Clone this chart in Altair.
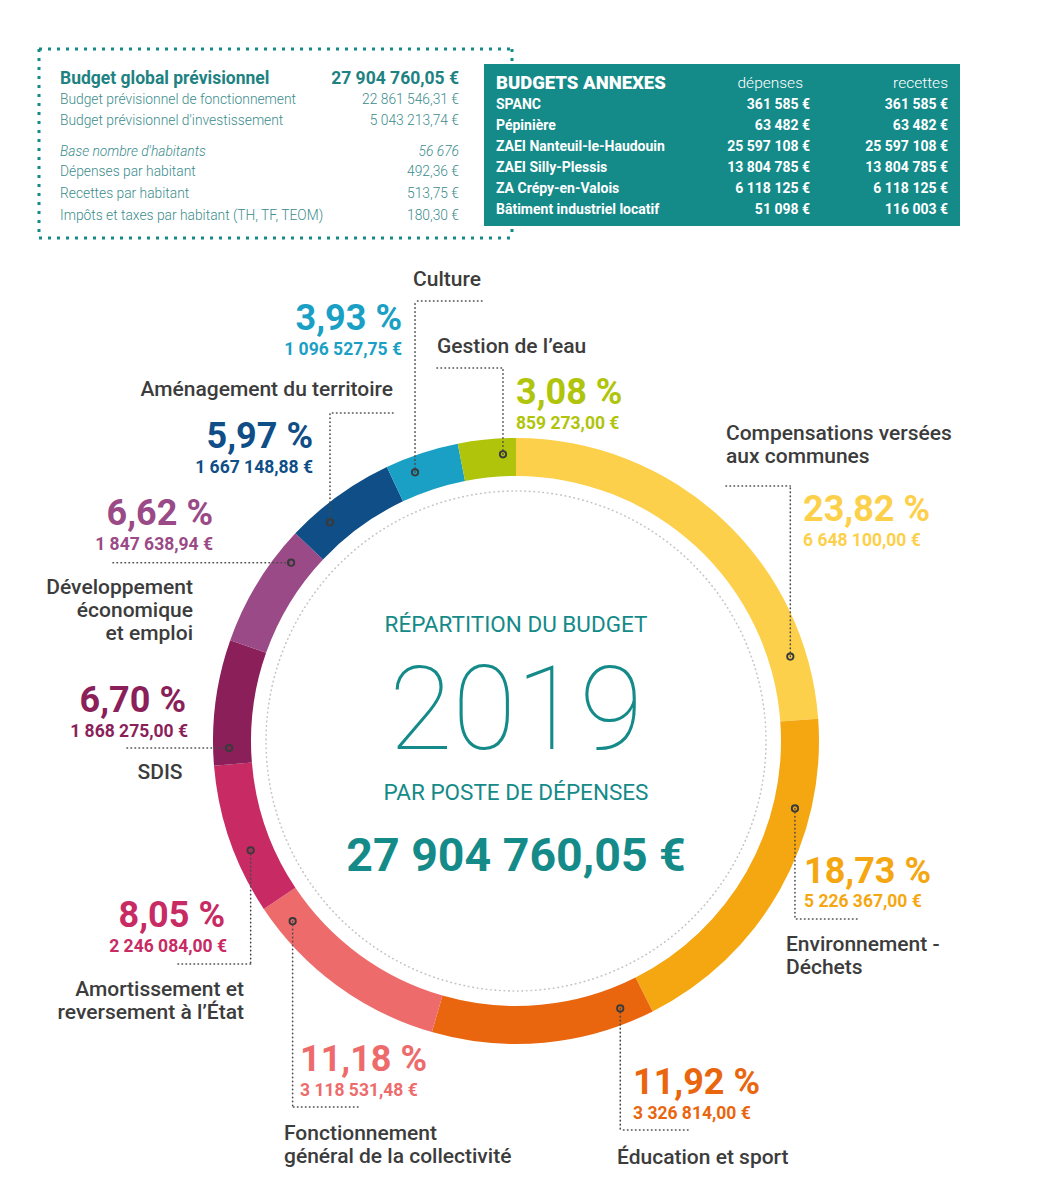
import math
import altair as alt
import pandas as pd

# ---------------- data ----------------
categories = [
    "Compensations versées aux communes",
    "Environnement - Déchets",
    "Éducation et sport",
    "Fonctionnement général de la collectivité",
    "Amortissement et reversement à l’État",
    "SDIS",
    "Développement économique et emploi",
    "Aménagement du territoire",
    "Culture",
    "Gestion de l’eau",
]
name_lines = [
    ["Compensations versées", "aux communes"],
    ["Environnement -", "Déchets"],
    ["Éducation et sport"],
    ["Fonctionnement", "général de la collectivité"],
    ["Amortissement et", "reversement à l’État"],
    ["SDIS"],
    ["Développement", "économique", "et emploi"],
    ["Aménagement du territoire"],
    ["Culture"],
    ["Gestion de l’eau"],
]
percentages = [23.82, 18.73, 11.92, 11.18, 8.05, 6.70, 6.62, 5.97, 3.93, 3.08]
amounts = [6648100.00, 5226367.00, 3326814.00, 3118531.48, 2246084.00,
           1868275.00, 1847638.94, 1667148.88, 1096527.75, 859273.00]
colors = ["#FDD04B", "#F5A712", "#E9660F", "#EE6B6C", "#C82A63",
          "#8A1F5A", "#9A4A86", "#0F4E86", "#1A9FC5", "#AFC40B"]

budget_title = "Budget global prévisionnel"
budget_total = 27904760.05
budget_labels = ["Budget prévisionnel de fonctionnement",
                 "Budget prévisionnel d'investissement"]
budget_values = [22861546.31, 5043213.74]
base_label = "Base nombre d'habitants"
base_value = 56676
hab_labels = ["Dépenses par habitant", "Recettes par habitant",
              "Impôts et taxes par habitant (TH, TF, TEOM)"]
hab_values = [492.36, 513.75, 180.30]

annex_title = "BUDGETS ANNEXES"
annex_cols = ["dépenses", "recettes"]
annex_names = ["SPANC", "Pépinière", "ZAEI Nanteuil-le-Haudouin",
               "ZAEI Silly-Plessis", "ZA Crépy-en-Valois",
               "Bâtiment industriel locatif"]
annex_depenses = [361585, 63482, 25597108, 13804785, 6118125, 51098]
annex_recettes = [361585, 63482, 25597108, 13804785, 6118125, 116003]

center_title = "RÉPARTITION DU BUDGET"
center_year = "2019"
center_sub = "PAR POSTE DE DÉPENSES"


# ---------------- formatting ----------------
def eur2(v):
    return f"{v:,.2f}".replace(",", " ").replace(".", ",") + " €"


def eur0(v):
    return f"{v:,}".replace(",", " ") + " €"


def pct(p):
    return f"{p:.2f}".replace(".", ",") + " %"


# ---------------- layout (styles / positions) ----------------
W, H = 1024, 1183
OX, OY = 8, 8
FONT = "Roboto"
TEAL = "#148A89"
TEAL_TXT = "#1E8282"
TEAL_LIGHT = "#3B8C8C"
GRAY = "#3C3C3C"

CX, CY = 516, 741
R_OUT, R_IN, R_DOT, R_DOTTED = 303, 265, 287, 250

layout = [
    dict(a=72.9, name=(726, 434, "left"), pct=(803, 510, "left"), amt=(803, 541), elbow=486, other=726),
    dict(a=103.6, name=(786, 945, "left"), pct=(804, 872, "left"), amt=(804, 902), elbow=919, other=857),
    dict(a=158.7, name=(617, 1158, "left"), pct=(633, 1083, "left"), amt=(633, 1114), elbow=1130, other=688),
    dict(a=231.1, name=(284, 1134, "left"), pct=(300, 1060, "left"), amt=(300, 1091), elbow=1107, other=358),
    dict(a=247.6, name=(244, 990, "right"), pct=(225, 916, "right"), amt=(227, 947), elbow=964, other=178),
    dict(a=268.6, name=(160, 773, "center"), pct=(186, 701, "right"), amt=(188, 732), elbow=None, other=127),
    dict(a=308.4, name=(193, 588, "right"), pct=(213, 514, "right"), amt=(213, 545), elbow=None, other=113),
    dict(a=319.6, name=(393, 390, "right"), pct=(313, 437, "right"), amt=(313, 468), elbow=413, other=393),
    dict(a=339.4, name=(413, 280, "left"), pct=(402, 319, "right"), amt=(402, 350), elbow=301, other=482),
    dict(a=357.4, name=(437, 347, "left"), pct=(516, 393, "left"), amt=(516, 424), elbow=368, other=437),
]

texts = []


def add_text(x, y, s, size, color, weight="normal", align="left", style="normal", font=FONT):
    texts.append(dict(x=x - OX, y=y - OY, t=s, c=color, size=size, weight=weight,
                      align=align, style=style, font=font))


# top-left box texts
add_text(60, 79, budget_title, 17.5, TEAL_TXT, "bold")
add_text(459, 79, eur2(budget_total), 17.5, TEAL_TXT, "bold", "right")
for i, (lab, val) in enumerate(zip(budget_labels, budget_values)):
    y = 100 + i * 21
    add_text(60, y, lab, 13.8, TEAL_LIGHT, 300)
    add_text(459, y, eur2(val), 13.8, TEAL_LIGHT, 300, "right")
add_text(60, 152, base_label, 13.8, TEAL_LIGHT, 300, style="italic")
add_text(459, 152, f"{base_value:,}".replace(",", " "), 13.8, TEAL_LIGHT, 300, "right", style="italic")
for i, (lab, val) in enumerate(zip(hab_labels, hab_values)):
    y = 172 + i * 22
    add_text(60, y, lab, 13.8, TEAL_LIGHT, 300)
    add_text(459, y, eur2(val), 13.8, TEAL_LIGHT, 300, "right")

# annex box texts
add_text(496, 83, annex_title, 18.5, "white", 900)
add_text(803, 83, annex_cols[0], 15.5, "white", 300, "right")
add_text(948, 83, annex_cols[1], 15.5, "white", 300, "right")
for i, (n, d, r) in enumerate(zip(annex_names, annex_depenses, annex_recettes)):
    y = 105 + i * 21
    add_text(496, y, n, 14, "white", "bold")
    add_text(810, y, eur0(d), 14, "white", "bold", "right")
    add_text(948, y, eur0(r), 14, "white", "bold", "right")

# center texts
add_text(CX, 625, center_title, 22.5, TEAL, 400, "center")
add_text(CX, 714, center_year, 116, TEAL, 100, "center")
add_text(CX, 793, center_sub, 22.5, TEAL, 400, "center")
add_text(CX, 857, eur2(budget_total), 46.5, TEAL, "bold", "center")

# category labels
dots = []
segs = []
for i, L in enumerate(layout):
    col = colors[i]
    nx, ny, nal = L["name"]
    for k, line in enumerate(name_lines[i]):
        add_text(nx, ny + k * 23, line, 21, GRAY, 500, nal)
    px, py, pal = L["pct"]
    add_text(px, py, pct(percentages[i]), 36, col, "bold", pal)
    ax, ay = L["amt"]
    add_text(ax, ay, eur2(amounts[i]), 17.5, col, "bold", pal)
    a = math.radians(L["a"])
    dx = CX + R_DOT * math.sin(a)
    dy = CY - R_DOT * math.cos(a)
    dots.append(dict(x=dx - OX, y=dy - OY))
    if L["elbow"] is not None:
        segs.append(dict(x=dx - OX, y=dy - OY, x2=dx - OX, y2=L["elbow"] - OY))
        hy = L["elbow"]
    else:
        hy = dy
    segs.append(dict(x=L["other"] - OX, y=hy - OY, x2=dx - OX, y2=hy - OY))

# ---------------- charts ----------------
one = pd.DataFrame({"k": [0]})

# dotted frame of the top-left box
frame = pd.DataFrame([
    dict(x=39 - OX, y=49 - OY, x2=512 - OX, y2=49 - OY),
    dict(x=39 - OX, y=238 - OY, x2=512 - OX, y2=238 - OY),
    dict(x=39 - OX, y=49 - OY, x2=39 - OX, y2=238 - OY),
    dict(x=512 - OX, y=49 - OY, x2=512 - OX, y2=238 - OY),
])
frame_layer = alt.Chart(frame).mark_rule(color=TEAL, strokeWidth=3, strokeDash=[3, 6]).encode(
    x=alt.X("x:Q", scale=None, axis=None), y=alt.Y("y:Q", scale=None, axis=None),
    x2="x2:Q", y2="y2:Q")

annex_box = alt.Chart(one).mark_rect(color=TEAL).encode(
    x=alt.value(484 - OX), x2=alt.value(960 - OX), y=alt.value(64 - OY), y2=alt.value(226 - OY))

ring_df = pd.DataFrame({"cat": categories, "amount": amounts, "ord": list(range(len(categories)))})
ring = alt.Chart(ring_df).mark_arc(radius=R_OUT, radius2=R_IN).encode(
    theta=alt.Theta("amount:Q", stack=True),
    color=alt.Color("cat:N", scale=alt.Scale(domain=categories, range=colors), legend=None),
    order=alt.Order("ord:Q", sort="ascending"),
    x=alt.value(CX - OX), y=alt.value(CY - OY))

dotted_circle = alt.Chart(one).mark_arc(
    theta=0, theta2=2 * math.pi, radius=R_DOTTED, filled=False, stroke="#C4C4C4",
    strokeWidth=1.6, strokeDash=[0.5, 4], strokeCap="round").encode(
    x=alt.value(CX - OX), y=alt.value(CY - OY))

leaders = alt.Chart(pd.DataFrame(segs)).mark_rule(
    color="#4A4A4A", strokeWidth=1.6, strokeDash=[0.5, 3.5], strokeCap="round").encode(
    x=alt.X("x:Q", scale=None, axis=None), y=alt.Y("y:Q", scale=None, axis=None),
    x2="x2:Q", y2="y2:Q")

dot_layer = alt.Chart(pd.DataFrame(dots)).mark_point(
    shape="circle", filled=False, size=40, strokeWidth=1.9, color="#3A3A3A", opacity=1).encode(
    x=alt.X("x:Q", scale=None, axis=None), y=alt.Y("y:Q", scale=None, axis=None))

text_layers = []
keys = []
for t in texts:
    key = (t["size"], t["weight"], t["align"], t["style"], t["font"])
    if key not in keys:
        keys.append(key)
for key in keys:
    size, weight, align, style, font = key
    sub = pd.DataFrame([dict(x=t["x"], y=t["y"], t=t["t"], c=t["c"]) for t in texts
                        if (t["size"], t["weight"], t["align"], t["style"], t["font"]) == key])
    text_layers.append(
        alt.Chart(sub).mark_text(align=align, baseline="middle", fontSize=size,
                                 fontWeight=weight, fontStyle=style, font=font).encode(
            x=alt.X("x:Q", scale=None, axis=None), y=alt.Y("y:Q", scale=None, axis=None),
            text="t:N", color=alt.Color("c:N", scale=None, legend=None)))

chart = alt.layer(frame_layer, annex_box, ring, dotted_circle, leaders, dot_layer, *text_layers).properties(
    width=W, height=H, padding=0, autosize="none", background="white"
).configure_view(strokeWidth=0)

chart.save("out.html", embed_options={"renderer": "svg", "actions": False})
